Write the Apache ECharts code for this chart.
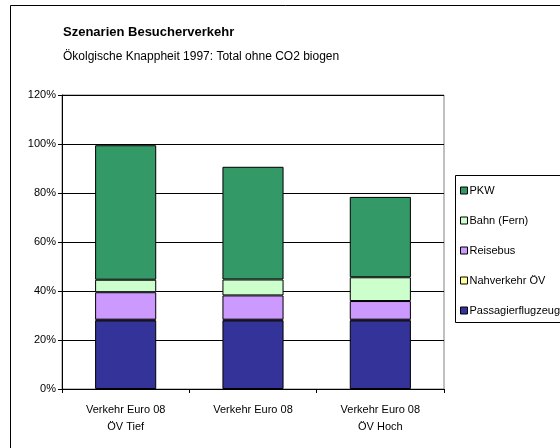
<!DOCTYPE html>
<html>
<head>
<meta charset="utf-8">
<script src="https://cdn.jsdelivr.net/npm/echarts@6/dist/echarts.min.js"></script>
<style>
  html, body { margin: 0; padding: 0; background: #fff; }
  #chart { width: 560px; height: 448px; }
</style>
</head>
<body>
<div id="chart"></div>
<script>
// categories (two-line labels)
var categories = ['Verkehr Euro 08\nÖV Tief', 'Verkehr Euro 08', 'Verkehr Euro 08\nÖV Hoch']
var yTicks = [0, 20, 40, 60, 80, 100, 120]

// values in percent, stacked bottom-up
var flugzeug = [28.0, 28.0, 28.0]
var nahverkehr = [0.3, 0.3, 0.3]
var reisebus = [11.2, 9.9, 7.6]
var bahn = [5.1, 6.5, 9.7]
var pkw = [54.9, 46.0, 32.8]

var legendOrder = ['PKW', 'Bahn (Fern)', 'Reisebus', 'Nahverkehr ÖV', 'Passagierflugzeug']

var font = 'Liberation Sans, Arial, sans-serif'

function bar(name, data, color) {
  return {
    name: name,
    type: 'bar',
    stack: 'total',
    barWidth: '48%',
    data: data,
    itemStyle: { color: color, borderColor: '#000', borderWidth: 1 }
  }
}

var chart = echarts.init(document.getElementById('chart'))
var option = {
  animation: false,
  backgroundColor: '#fff',
  textStyle: { fontFamily: font, color: '#000' },
  title: {
    text: 'Szenarien Besucherverkehr',
    subtext: 'Ökolgische Knappheit 1997: Total ohne CO2 biogen',
    left: 58,
    top: 21,
    itemGap: 12,
    textStyle: { fontFamily: font, fontSize: 13, fontWeight: 'bold', color: '#000' },
    subtextStyle: { fontFamily: font, fontSize: 12, color: '#000' }
  },
  graphic: [
    {
      type: 'rect',
      shape: { x: 10.5, y: 5.5, width: 600, height: 500 },
      style: { fill: null, stroke: '#000', lineWidth: 1 },
      z: -1
    },
    {
      type: 'rect',
      shape: { x: 455.5, y: 175.5, width: 200, height: 147 },
      style: { fill: null, stroke: '#000', lineWidth: 1 },
      z: -1
    }
  ],
  legend: {
    data: legendOrder,
    orient: 'vertical',
    left: 455,
    top: 180,
    icon: 'rect',
    itemWidth: 7,
    itemHeight: 7,
    itemGap: 19,
    itemStyle: { borderColor: '#000', borderWidth: 1 },
    textStyle: { fontFamily: font, fontSize: 11, color: '#000', padding: [0, 0, 0, -3] }
  },
  grid: {
    left: 62,
    right: 116,
    top: 95,
    bottom: 59,
    show: true,
    borderColor: '#808080',
    borderWidth: 1
  },
  xAxis: {
    type: 'category',
    data: categories,
    axisLine: { lineStyle: { color: '#000' } },
    axisTick: { show: true, length: 4, lineStyle: { color: '#000' } },
    axisLabel: { fontFamily: font, fontSize: 11, color: '#000', margin: 12, lineHeight: 17 }
  },
  yAxis: {
    type: 'value',
    min: yTicks[0],
    max: yTicks[yTicks.length - 1],
    interval: 20,
    axisLine: { show: true, lineStyle: { color: '#000' } },
    axisTick: { show: true, length: 4, lineStyle: { color: '#000' } },
    axisLabel: { fontFamily: font, fontSize: 11, color: '#000', margin: 6, formatter: '{value}%' },
    splitLine: { show: true, lineStyle: { color: '#000', width: 1 } }
  },
  series: [
    bar('Passagierflugzeug', flugzeug, '#333399'),
    bar('Nahverkehr ÖV', nahverkehr, '#FFFF99'),
    bar('Reisebus', reisebus, '#CC99FF'),
    bar('Bahn (Fern)', bahn, '#CCFFCC'),
    bar('PKW', pkw, '#339966')
  ]
}
chart.setOption(option)
</script>
</body>
</html>
